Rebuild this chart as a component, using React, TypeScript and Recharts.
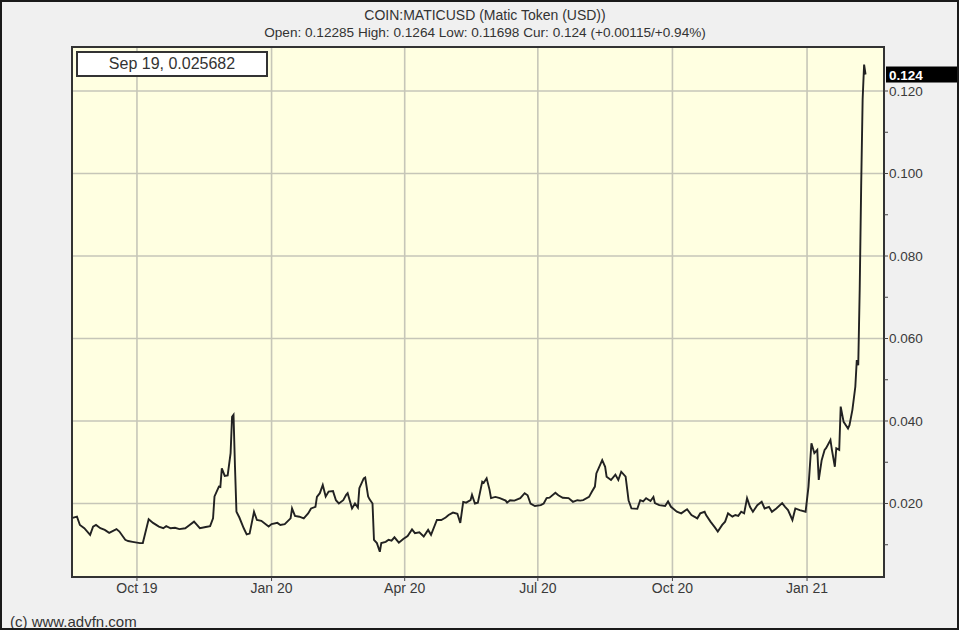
import {
  LineChart,
  Line,
  XAxis,
  YAxis,
  CartesianGrid,
  ReferenceArea,
  ReferenceLine,
} from "recharts";

const title = "COIN:MATICUSD (Matic Token (USD))";
const quote = "Open: 0.12285 High: 0.1264 Low: 0.11698 Cur: 0.124 (+0.00115/+0.94%)";
const cursorText = "Sep 19, 0.025682";
const copyright = "(c) www.advfn.com";

// days counted from 18 Aug 2019
const days = [
  0, 3, 5, 8, 12, 14, 16, 19, 22, 25, 30, 32, 36, 38, 41, 46, 48, 52, 55, 59,
  62, 64, 67, 70, 73, 77, 80, 83, 85, 87, 91, 94, 96, 97, 100, 101, 102, 104, 106, 108,
  109, 110, 111, 112, 114, 117, 119, 121, 124, 126, 129, 134, 136, 140, 142, 145, 149, 150, 152, 155,
  158, 161, 163, 166, 167, 169, 171, 173, 175, 178, 180, 182, 185, 187, 188, 191, 193, 195, 196, 199,
  200, 202, 203, 205, 206, 208, 210, 211, 214, 216, 218, 220, 223, 226, 229, 232, 234, 237, 240, 243,
  245, 249, 252, 255, 257, 260, 263, 265, 267, 269, 272, 273, 275, 277, 280, 281, 283, 285, 286, 289,
  292, 296, 297, 299, 302, 306, 309, 311, 313, 316, 320, 322, 324, 326, 330, 332, 335, 339, 342, 345,
  347, 349, 353, 355, 357, 358, 362, 364, 365, 368, 371, 373, 375, 378, 380, 382, 386, 388, 390, 392,
  395, 397, 398, 401, 405, 407, 409, 413, 416, 420, 423, 427, 429, 432, 433, 436, 439, 441, 444, 446,
  448, 451, 453, 455, 457, 459, 461, 463, 465, 468, 471, 473, 476, 478, 481, 485, 487, 489, 492, 494,
  497, 501, 503, 505, 507, 509, 510, 512, 514, 515, 518, 519, 521, 522, 524, 525, 527, 530, 531, 533,
  535, 536, 537, 538, 539, 540, 541, 542,
];

const prices = [
  0.0165, 0.0168, 0.0148, 0.014, 0.0124, 0.0144, 0.0148, 0.014, 0.0136, 0.0129,
  0.0138, 0.0132, 0.0112, 0.0109, 0.0107, 0.0104, 0.0104, 0.0162, 0.0153, 0.0144,
  0.014, 0.0145, 0.014, 0.0141, 0.0138, 0.014, 0.0148, 0.0156, 0.0148, 0.014,
  0.0143, 0.0145, 0.0164, 0.0217, 0.0241, 0.024, 0.0285, 0.0267, 0.0268, 0.0322,
  0.041, 0.0415, 0.0289, 0.018, 0.0166, 0.014, 0.0125, 0.0127, 0.018, 0.016,
  0.0158, 0.0144, 0.015, 0.0153, 0.0148, 0.015, 0.0164, 0.0188, 0.017, 0.0168,
  0.0164, 0.0176, 0.0188, 0.0192, 0.0216, 0.0225, 0.0245, 0.0217, 0.0229, 0.023,
  0.0208, 0.02, 0.0208, 0.0221, 0.0225, 0.0188, 0.02, 0.019, 0.0237, 0.0261,
  0.0263, 0.0217, 0.021, 0.02, 0.0112, 0.0104, 0.0083, 0.0104, 0.0107, 0.0112,
  0.011, 0.0118, 0.0105, 0.0114, 0.0121, 0.0137, 0.0128, 0.013, 0.012, 0.0136,
  0.0124, 0.016, 0.016, 0.0166, 0.0172, 0.0178, 0.0175, 0.0153, 0.0204, 0.0202,
  0.0208, 0.0221, 0.02, 0.0202, 0.0253, 0.025, 0.0261, 0.0233, 0.0213, 0.0216,
  0.0213, 0.0207, 0.0202, 0.0208, 0.0207, 0.0213, 0.0225, 0.022, 0.02, 0.0194,
  0.0196, 0.02, 0.0213, 0.0214, 0.0226, 0.022, 0.0214, 0.0213, 0.0204, 0.0208,
  0.0207, 0.0208, 0.0216, 0.0229, 0.0241, 0.0273, 0.0305, 0.0289, 0.0265, 0.0257,
  0.027, 0.0257, 0.0277, 0.0265, 0.0208, 0.0188, 0.0187, 0.0208, 0.0205, 0.0213,
  0.0206, 0.0216, 0.0201, 0.0196, 0.0194, 0.0205, 0.0192, 0.018, 0.0176, 0.0186,
  0.0172, 0.0164, 0.0176, 0.018, 0.0172, 0.0156, 0.0142, 0.0132, 0.0148, 0.0156,
  0.0176, 0.0168, 0.0172, 0.017, 0.018, 0.0176, 0.0213, 0.0192, 0.018, 0.0196,
  0.0204, 0.0188, 0.0192, 0.018, 0.0188, 0.0201, 0.0192, 0.0184, 0.016, 0.0188,
  0.0184, 0.018, 0.0241, 0.0346, 0.0322, 0.033, 0.0257, 0.0305, 0.033, 0.0334,
  0.0354, 0.033, 0.0289, 0.0334, 0.033, 0.0435, 0.0398, 0.0382, 0.039, 0.0427,
  0.0483, 0.0548, 0.0535, 0.072, 0.097, 0.118, 0.1264, 0.124,
];

const tickDays = [44, 136, 227, 318, 410, 502];
const tickLabels = ["Oct 19", "Jan 20", "Apr 20", "Jul 20", "Oct 20", "Jan 21"];
const priceTicks = [0.01, 0.02, 0.03, 0.04, 0.05, 0.06, 0.07, 0.08, 0.09, 0.1, 0.11, 0.12];
const gridPrices = [0.02, 0.04, 0.06, 0.08, 0.1, 0.12];
const lastPrice = 0.124;

const data = days.map((d, i) => ({ day: d, price: prices[i] }));

const xDomain: [number, number] = [-0.4, 554.6];
const yDomain: [number, number] = [0.00218, 0.13067];

const font = '"Liberation Sans", Arial, sans-serif';

function CurrentLabel(props: any) {
  const vb = props.viewBox || {};
  const x = vb.x + vb.width + 2;
  const y = vb.y;
  return (
    <g>
      <rect x={x} y={y - 8} width={75} height={16} fill="#000" />
      <text x={x + 3} y={y + 5} fill="#fff" fontSize={13.5} fontWeight="bold" fontFamily={font}>
        {lastPrice.toFixed(3)}
      </text>
    </g>
  );
}

export default function App() {
  return (
    <div
      style={{
        position: "absolute",
        left: 0,
        top: 0,
        width: 959,
        height: 630,
        background: "#f0f0f0",
        fontFamily: font,
        overflow: "hidden",
      }}
    >
      <div style={{ position: "absolute", left: 0, width: 970, top: 7, textAlign: "center", fontSize: 14, lineHeight: "16px", color: "#333", whiteSpace: "nowrap" }}>
        {title}
      </div>
      <div style={{ position: "absolute", left: 0, width: 970, top: 25, textAlign: "center", fontSize: 13.6, lineHeight: "16px", color: "#333", whiteSpace: "nowrap" }}>
        {quote}
      </div>

      <div style={{ position: "absolute", left: 0, top: 0 }}>
        <LineChart width={959} height={630} data={data} margin={{ top: 43, right: 0, bottom: 0, left: 68 }}>
          <CartesianGrid
            yAxisId="right"
            horizontalValues={gridPrices}
            verticalValues={tickDays}
            stroke="#c6c6b8"
            strokeWidth={1.6}
            fill="#ffffe1"
            fillOpacity={1}
          />
          <XAxis
            dataKey="day"
            type="number"
            domain={xDomain}
            allowDataOverflow
            ticks={tickDays}
            interval={0}
            tickFormatter={(v) => tickLabels[tickDays.indexOf(v)] ?? ""}
            height={53}
            tickSize={4}
            tickMargin={2}
            axisLine={false}
            tickLine={{ stroke: "#444" }}
            tick={{ fontSize: 14, fill: "#3a3a3a", fontFamily: font }}
          />
          <XAxis
            xAxisId="top"
            orientation="top"
            dataKey="day"
            type="number"
            domain={xDomain}
            allowDataOverflow
            ticks={tickDays}
            interval={0}
            height={4}
            tickSize={3}
            axisLine={false}
            tickLine={{ stroke: "#444" }}
            tick={false}
          />
          <YAxis
            yAxisId="left"
            orientation="left"
            type="number"
            domain={yDomain}
            allowDataOverflow
            ticks={priceTicks}
            interval={0}
            width={4}
            tickSize={4}
            axisLine={false}
            tickLine={{ stroke: "#444" }}
            tick={false}
          />
          <YAxis
            yAxisId="right"
            orientation="right"
            type="number"
            domain={yDomain}
            allowDataOverflow
            ticks={priceTicks}
            interval={0}
            width={75}
            tickSize={4}
            tickMargin={1}
            axisLine={false}
            tickLine={{ stroke: "#444" }}
            tickFormatter={(v) => (Math.round(v * 1000) % 20 === 0 ? v.toFixed(3) : "")}
            tick={{ fontSize: 13.5, fill: "#3a3a3a", fontFamily: font, textAnchor: "start" }}
          />
          <ReferenceArea
            yAxisId="right"
            x1={xDomain[0]}
            x2={xDomain[1]}
            y1={yDomain[0]}
            y2={yDomain[1]}
            fill="none"
            stroke="#333"
            strokeWidth={2}
            ifOverflow="visible"
          />
          <Line
            yAxisId="right"
            dataKey="price"
            type="linear"
            stroke="#222"
            strokeWidth={1.9}
            dot={false}
            activeDot={false}
            isAnimationActive={false}
          />
          <ReferenceLine yAxisId="right" y={lastPrice} stroke="none" label={<CurrentLabel />} />
        </LineChart>
      </div>

      <div
        style={{
          position: "absolute",
          left: 76,
          top: 51,
          width: 192,
          height: 26,
          boxSizing: "border-box",
          border: "2px solid #333",
          background: "#fff",
          fontSize: 16,
          lineHeight: "22px",
          textAlign: "center",
          color: "#333",
          whiteSpace: "nowrap",
        }}
      >
        {cursorText}
      </div>

      <div style={{ position: "absolute", left: 10, top: 613, fontSize: 15, lineHeight: "17px", color: "#333", whiteSpace: "nowrap" }}>
        {copyright}
      </div>

      <div
        style={{
          position: "absolute",
          left: 0,
          top: 0,
          width: 959,
          height: 630,
          boxSizing: "border-box",
          border: "2px solid #1a1a1a",
          pointerEvents: "none",
        }}
      />
    </div>
  );
}
